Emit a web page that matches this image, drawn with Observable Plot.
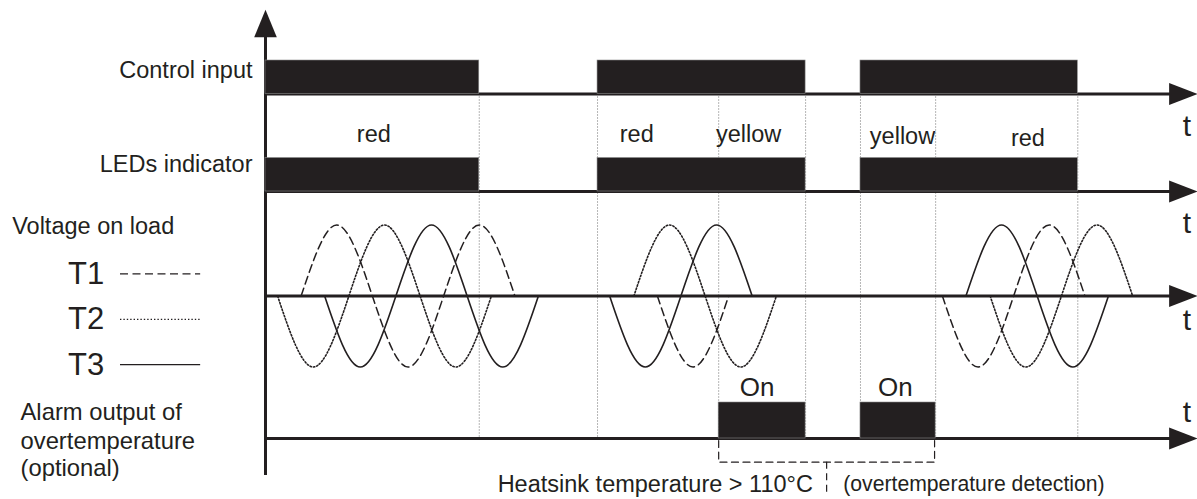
<!DOCTYPE html>
<html>
<head>
<meta charset="utf-8">
<script src="https://cdn.jsdelivr.net/npm/d3@7"></script>
<script src="https://cdn.jsdelivr.net/npm/@observablehq/plot@0.6"></script>
<style>
  html, body { margin: 0; padding: 0; background: #fff; overflow: hidden; }
</style>
</head>
<body>
<div id="chart"></div>
<script>
// ---------------- data (time in ms, 10 ms = half mains cycle) ----------------
const controlOn  = [0, 46.6, 83.5];
const controlOff = [30, 75.8, 114];

const ledOn  = [0, 46.6, 83.5];
const ledOff = [30, 75.8, 114];
const ledState = ["red", "red", "yellow", "yellow", "red"];

const alarmOn  = [63.6, 83.5];
const alarmOff = [75.8, 94.05];
const alarmLabel = ["On", "On"];

const eventTimes = [30, 46.6, 63.6, 75.8, 83.5, 94.05, 114];

const phaseNames = ["T1", "T2", "T3"];
// key points (zero crossings and crests) of each burst, value in units of amplitude
const t1Times  = [[5, 10, 15, 20, 25, 30, 35], [55, 60, 65], [95, 100, 105, 110, 115]];
const t1Values = [[0, 1, 0, -1, 0, 1, 0], [0, -1, 0], [0, -1, 0, 1, 0]];
const t2Times  = [[1.7, 6.7, 11.7, 16.7, 21.7, 26.7, 31.7], [51.7, 56.7, 61.7, 66.7, 71.7], [101.7, 106.7, 111.7, 116.7, 121.7]];
const t2Values = [[0, -1, 0, 1, 0, -1, 0], [0, 1, 0, -1, 0], [0, -1, 0, 1, 0]];
const t3Times  = [[8.3, 13.3, 18.3, 23.3, 28.3, 33.3, 38.3], [48.3, 53.3, 58.3, 63.3, 68.3], [98.3, 103.3, 108.3, 113.3, 118.3]];
const t3Values = [[0, -1, 0, 1, 0, -1, 0], [0, -1, 0, 1, 0], [0, 1, 0, -1, 0]];

const rowLabels = ["Control input", "LEDs indicator"];
const voltageLabel = "Voltage on load";
const alarmLines = ["Alarm output of", "overtemperature", "(optional)"];
const heatsinkText = "Heatsink temperature > 110°C";
const detectionText = "(overtemperature detection)";
const axisLetter = "t";

// ---------------- layout / styles ----------------
const ink = "#231f20";
const font = "'Liberation Sans', Arial, Helvetica, sans-serif";
const tEnd = 130.8;          // arrow tip of the time axes
const lane = {control: 93.5, led: 191, volt: 295.5, alarm: 438};
const pulseH = {control: 33.5, led: 33.5, alarm: 36};
const amp = 71;
const laneKeys = ["control", "led", "volt", "alarm"];

const arrowRight = {draw(ctx) { ctx.moveTo(0, 0); ctx.lineTo(-28.4, -10.9); ctx.lineTo(-28.4, 10.9); ctx.closePath(); }};
const arrowUp = {draw(ctx) { ctx.moveTo(0, 0); ctx.lineTo(-11.3, 27.4); ctx.lineTo(11.3, 27.4); ctx.closePath(); }};

const pulses = (key, from, to) => from.map((s, i) => ({x1: s, x2: to[i], y1: lane[key] - pulseH[key], y2: lane[key]}));
const bars = [
  ...pulses("control", controlOn, controlOff),
  ...pulses("led", ledOn, ledOff),
  ...pulses("alarm", alarmOn, alarmOff)
];

const waveRows = (times, values, phase) => times.flatMap((ts, b) => ts.map((t, i) => ({phase, burst: phase + b, t, v: values[b][i]})));
const waves = [
  ...waveRows(t1Times, t1Values, "T1"),
  ...waveRows(t2Times, t2Values, "T2"),
  ...waveRows(t3Times, t3Values, "T3")
];
const waveStyle = {
  T1: {strokeWidth: 1.5, strokeDasharray: "8,4.5"},
  T2: {strokeWidth: 1.6, strokeDasharray: "1.4,2"},
  T3: {strokeWidth: 1.6, strokeDasharray: null}
};

const ledLabelX = [15.2, 52.1, 67.8, 89.4, 107.0];
const ledLabelY = [134.2, 134.2, 133.5, 135.9, 138.0];
const legendY = [273.4, 318.9, 364.1];
const legendX = [-20.35, -9.1];
const bracket = {from: alarmOn[0], to: 93.9, top: lane.alarm + 2, bottom: 461.7, tick: 493};
const bracketMid = (bracket.from + bracket.to) / 2;

const waveMarks = phaseNames.map(p => Plot.line(waves.filter(d => d.phase === p), {
  x: "t", y: d => lane.volt - d.v * amp, z: "burst", curve: "natural",
  stroke: ink, fill: "none", ...waveStyle[p]
}));

const legendMarks = phaseNames.map((p, i) => Plot.ruleY([legendY[i]], {
  y: d => d, x1: legendX[0], x2: legendX[1], stroke: ink, ...waveStyle[p],
  strokeWidth: 1.3
}));

const chart = Plot.plot({
  width: 1197,
  height: 499,
  marginLeft: 265,
  marginRight: 0,
  marginTop: 0,
  marginBottom: 0,
  x: {domain: [0, tEnd], axis: null},
  y: {domain: [0, 499], range: [0, 499], axis: null},
  style: {fontFamily: font, background: "#fff", color: ink},
  marks: [
    // event guides
    Plot.ruleX(eventTimes, {x: d => d, y1: lane.control, y2: lane.alarm, stroke: "#6d6d6d", strokeWidth: 1, strokeDasharray: "1,2"}),
    // time axes
    Plot.ruleY(laneKeys, {y: d => lane[d], x1: 0, x2: tEnd - 3, stroke: ink, strokeWidth: 3}),
    Plot.dot(laneKeys, {x: () => tEnd, y: d => lane[d], symbol: arrowRight, r: 5, fill: ink, stroke: "none"}),
    // vertical axis
    Plot.ruleX([0], {x: d => d, y1: 34, y2: 475, stroke: ink, strokeWidth: 3}),
    Plot.dot([0], {x: d => d, y: () => 9.3, symbol: arrowUp, r: 5, fill: ink, stroke: "none"}),
    // pulses
    Plot.rect(bars, {x1: "x1", x2: "x2", y1: "y1", y2: "y2", fill: ink, stroke: "#8a8a8a", strokeWidth: 0.6}),
    // voltage waves
    ...waveMarks,
    // legend
    ...legendMarks,
    // bracket
    Plot.line([[bracket.from, bracket.top], [bracket.from, bracket.bottom], [bracket.to, bracket.bottom], [bracket.to, bracket.top]],
      {x: d => d[0], y: d => d[1], stroke: ink, strokeWidth: 1.2, strokeDasharray: "7,4.5", fill: "none"}),
    Plot.ruleX([bracketMid], {x: d => d, y1: bracket.bottom, y2: bracket.tick, stroke: ink, strokeWidth: 1.2, strokeDasharray: "7,4.5"}),
    // texts
    Plot.text(rowLabels, {text: d => d, frameAnchor: "left", dx: -13, y: [69.8, 164.2], textAnchor: "end", fontSize: 23.5, fill: ink}),
    Plot.text([voltageLabel], {text: d => d, frameAnchor: "left", dx: -253.3, y: [225.8], textAnchor: "start", fontSize: 23.5, fill: ink}),
    Plot.text(phaseNames, {text: d => d, frameAnchor: "left", dx: -197.5, y: legendY, textAnchor: "start", fontSize: 31, fill: ink}),
    Plot.text(alarmLines, {text: d => d, frameAnchor: "left", dx: -245, y: [411.8, 440.8, 467.5], textAnchor: "start", fontSize: 23.8, fill: ink}),
    Plot.text(ledState, {text: d => d, x: ledLabelX, y: ledLabelY, fontSize: 23.5, fill: ink}),
    Plot.text(alarmLabel, {text: d => d, x: [69.0, 88.4], y: [386.7, 386.7], fontSize: 26, fill: ink}),
    Plot.text([axisLetter, axisLetter, axisLetter, axisLetter], {text: d => d, x: () => 129.3, y: [126, 222.5, 320, 411.5], fontSize: 30, fill: ink}),
    Plot.text([heatsinkText], {text: d => d, x: () => bracketMid, dx: -13.7, y: [484.2], textAnchor: "end", fontSize: 23.5, fill: ink}),
    Plot.text([detectionText], {text: d => d, x: () => bracketMid, dx: 16.6, y: [484], textAnchor: "start", fontSize: 21.2, fill: ink})
  ]
});
document.getElementById("chart").appendChild(chart);
</script>
</body>
</html>
